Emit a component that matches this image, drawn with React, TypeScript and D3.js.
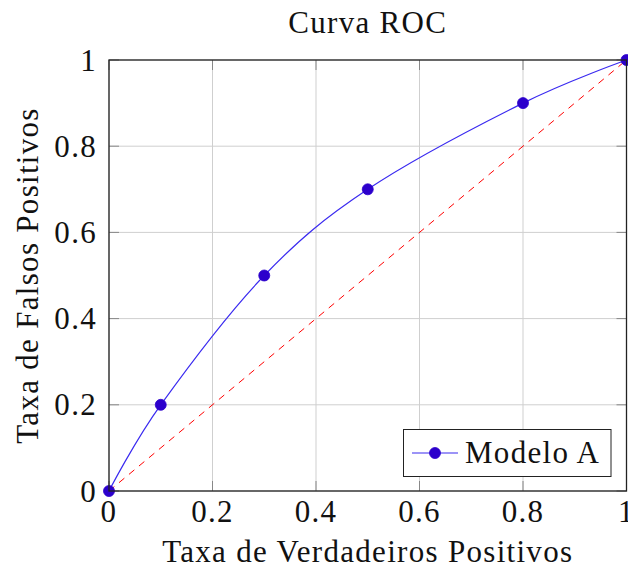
import React from "react";
import * as d3 from "d3";

const fpr = [0, 0.1, 0.3, 0.5, 0.8, 1];
const tpr = [0, 0.2, 0.5, 0.7, 0.9, 1];
const xTicks = [0, 0.2, 0.4, 0.6, 0.8, 1];
const yTicks = [0, 0.2, 0.4, 0.6, 0.8, 1];
const title = "Curva ROC";
const xLabel = "Taxa de Verdadeiros Positivos";
const yLabel = "Taxa de Falsos Positivos";
const seriesName = "Modelo A";

const W = 628;
const H = 570;
const L = 109, R = 626.5, T = 60, B = 491;
const FONT = "Liberation Serif, serif";
const FS = 31;
const LS = 1.3;
const LINE = "#3a2af0";
const MARK = "#2c00cc";

const txt: React.CSSProperties = { fontFamily: FONT, fontSize: FS, letterSpacing: LS };

export default function App() {
  const x = d3.scaleLinear().domain([0, 1]).range([L, R]);
  const y = d3.scaleLinear().domain([0, 1]).range([B, T]);
  const pts: [number, number][] = fpr.map((v, i) => [v, tpr[i]]);
  const line = d3
    .line<[number, number]>()
    .x((d) => x(d[0]))
    .y((d) => y(d[1]))
    .curve(d3.curveCardinal.tension(0));
  const diag = d3
    .line<number>()
    .x((d) => x(d))
    .y((d) => y(d));
  const fmt = (v: number) => (v === 0 || v === 1 ? String(v) : v.toFixed(1));

  return (
    <svg width={W} height={H} style={{ position: "absolute", left: 0, top: 0 }}>
      <rect width={W} height={H} fill="#fff" />
      {xTicks.map((t) => (
        <line key={"gx" + t} x1={x(t)} x2={x(t)} y1={T} y2={B} stroke="#cfcfcf" strokeWidth={1} />
      ))}
      {yTicks.map((t) => (
        <line key={"gy" + t} x1={L} x2={R} y1={y(t)} y2={y(t)} stroke="#cfcfcf" strokeWidth={1} />
      ))}
      {xTicks.map((t) => (
        <g key={"tx" + t}>
          <line x1={x(t)} x2={x(t)} y1={B} y2={B - 10} stroke="#888" strokeWidth={1} />
          <line x1={x(t)} x2={x(t)} y1={T} y2={T + 10} stroke="#888" strokeWidth={1} />
        </g>
      ))}
      {yTicks.map((t) => (
        <g key={"ty" + t}>
          <line x1={L} x2={L + 10} y1={y(t)} y2={y(t)} stroke="#888" strokeWidth={1} />
          <line x1={R} x2={R - 10} y1={y(t)} y2={y(t)} stroke="#888" strokeWidth={1} />
        </g>
      ))}
      <path d={diag([0, 1]) || ""} fill="none" stroke="#ff0000" strokeWidth={1} strokeDasharray="7,6" />
      <path d={line(pts) || ""} fill="none" stroke={LINE} strokeWidth={1.2} />
      {pts.map((p, i) => (
        <circle key={"m" + i} cx={x(p[0])} cy={y(p[1])} r={5.5} fill={MARK} stroke={MARK} strokeWidth={0.8} />
      ))}
      <rect x={L} y={T} width={R - L} height={B - T} fill="none" stroke="#222" strokeWidth={1.3} />
      {xTicks.map((t) => (
        <text key={"lx" + t} x={x(t)} y={522} style={txt} textAnchor="middle" fill="#111">
          {fmt(t)}
        </text>
      ))}
      {yTicks.map((t) => (
        <text key={"ly" + t} x={97} y={y(t) + 10.5} style={txt} textAnchor="end" fill="#111">
          {fmt(t)}
        </text>
      ))}
      <text x={(L + R) / 2} y={33} style={txt} textAnchor="middle" fill="#111">
        {title}
      </text>
      <text x={(L + R) / 2} y={562} style={txt} textAnchor="middle" fill="#111">
        {xLabel}
      </text>
      <text
        transform={`translate(38, ${(T + B) / 2}) rotate(-90)`}
        style={txt}
        textAnchor="middle"
        fill="#111"
      >
        {yLabel}
      </text>
      <g>
        <rect x={403.5} y={429.5} width={207.5} height={47} fill="#fff" stroke="#222" strokeWidth={1} />
        <line x1={412} x2={458} y1={453} y2={453} stroke={LINE} strokeWidth={1.2} />
        <circle cx={435} cy={453} r={5.5} fill={MARK} stroke={MARK} strokeWidth={0.8} />
        <text x={465} y={463} style={txt} fill="#111">
          {seriesName}
        </text>
      </g>
    </svg>
  );
}
